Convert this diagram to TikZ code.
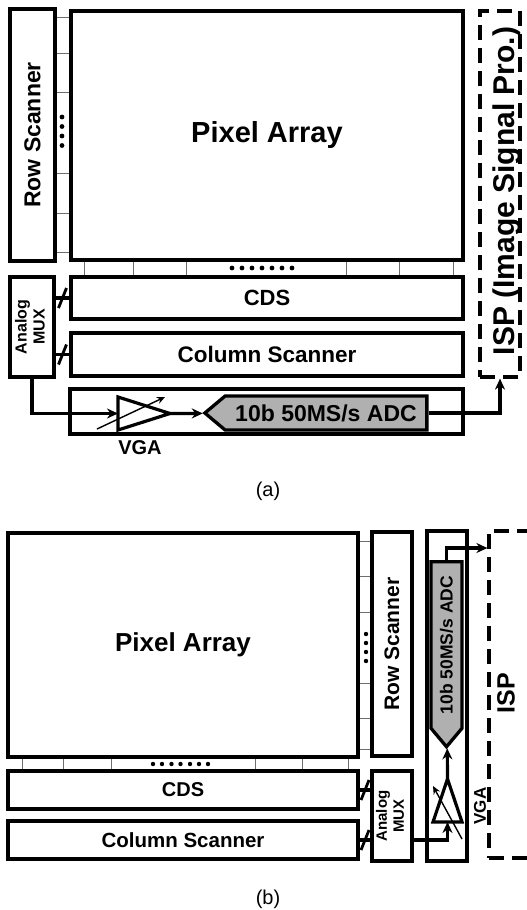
\documentclass[tikz,border=0pt]{standalone}
\usepackage{fontspec}
\setmainfont{Liberation Sans}
\usepackage{graphicx}
\usetikzlibrary{arrows.meta, positioning, shapes.symbols, calc}
\definecolor{adcgray}{RGB}{176,176,176}
\definecolor{tickgray}{RGB}{110,110,110}
\newcommand{\fsz}[2]{\fontsize{#1pt}{#2pt}\selectfont}

\begin{document}
\begin{tikzpicture}[
    x=1pt, y=-1pt,
    >={Stealth[length=11pt, width=10pt]},
    blockbox/.style={rectangle, draw, line width=3.3pt, fill=white, inner sep=0pt, font=\bfseries},
    ispbox/.style={rectangle, draw, line width=3.2pt, dash pattern=on 15pt off 8pt, inner sep=0pt},
    adcbox/.style={signal, signal to=west, signal pointer angle=80, draw, fill=adcgray, line width=3.3pt, inner sep=0pt, font=\bfseries},
    vgabox/.style={draw, fill=white, line width=3.2pt, line join=miter},
    gainarrow/.style={line width=1.4pt, -{Stealth[length=8pt, width=7pt]}},
    wire/.style={line width=3.2pt},
    tickline/.style={line width=0.9pt, tickgray},
    slashmark/.style={line width=2.8pt},
    textlabel/.style={font=\bfseries, inner sep=0pt},
]
    \useasboundingbox (0,0) rectangle (527,910);

    % (a) row readout on the bottom
    \node[blockbox, minimum width=45pt, minimum height=252pt] (rsA) at (32.5,135) {\rotatebox{90}{\fsz{23}{24}Row Scanner}};
    \node[blockbox, minimum width=392pt, minimum height=249pt] (paA) at (267,135.5) {\fsz{29}{30}Pixel Array};
    \node[blockbox, minimum width=392pt, minimum height=42pt] (cdsA) at (267,298) {\fsz{22}{24}CDS};
    \node[blockbox, minimum width=392pt, minimum height=43pt] (csA) at (267,354.5) {\fsz{22.5}{24}Column Scanner};
    \node[blockbox, minimum width=44pt, minimum height=100pt] (muxA) at (32,327) {\rotatebox{90}{\fsz{16}{18}\begin{tabular}{@{}c@{}}Analog\\MUX\end{tabular}}};
    \node[blockbox, minimum width=393pt, minimum height=45pt] (chA) at (266.5,411.5) {};
    \node[ispbox, minimum width=40pt, minimum height=366pt] (ispA) at (500,194) {};
    \node[textlabel, rotate=90] (ispAtext) at (507,191) {\fsz{30}{30}ISP (Image Signal Pro.)};

    \foreach \y in {17,53,92,173,213,252}
        \draw[tickline] (rsA.east |- 0,\y) -- (paA.west |- 0,\y);
    \foreach \y in {117,126.5,136,145.5}
        \fill (62,\y) circle (2.4pt);
    \foreach \x in {84,133,186,346,399,453}
        \draw[tickline] (paA.south -| \x,0) -- (cdsA.north -| \x,0);
    \foreach \x in {232,242,252,262,272,282,292}
        \fill (\x,268) circle (2.4pt);

    \draw[wire] (muxA.east |- cdsA.west) -- (cdsA.west);
    \draw[slashmark] ($(muxA.east |- cdsA.west)!0.5!(cdsA.west)$) ++(-4,10) -- ++(8,-20);
    \draw[wire] (muxA.east |- csA.west) -- (csA.west);
    \draw[slashmark] ($(muxA.east |- csA.west)!0.5!(csA.west)$) ++(-4,10) -- ++(8,-20);

    \coordinate (vgaAin) at (118,413.5);
    \coordinate (vgaAout) at (170,413.5);
    \draw[wire, ->] (muxA.south) |- (vgaAin);
    \draw[vgabox] (118,397) -- (118,430) -- (vgaAout) -- cycle;
    \draw[gainarrow] (97,429) -- (165,397);
    \node[textlabel] (vgaAtext) at (140,448) {\fsz{20}{20}VGA};
    \node[adcbox, minimum width=222pt, minimum height=34pt] (adcA) at (326,413) {\fsz{23}{24}10b 50MS/s ADC};
    \draw[wire, ->] (vgaAout) -- (adcA);
    \draw[wire, ->] (adcA.east) -| (ispA.south);

    \node (capA) at (268,491) {\fsz{20}{20}(a)};

    % (b) column readout on the right
    \node[blockbox, minimum width=350pt, minimum height=224pt] (paB) at (183,645) {\fsz{26}{28}Pixel Array};
    \node[blockbox, minimum width=40pt, minimum height=224pt] (rsB) at (392,644) {\rotatebox{90}{\fsz{21}{22}Row Scanner}};
    \node[blockbox, minimum width=350pt, minimum height=38pt] (cdsB) at (183,790) {\fsz{20}{22}CDS};
    \node[blockbox, minimum width=350pt, minimum height=38pt] (csB) at (183,840) {\fsz{20.5}{22}Column Scanner};
    \node[blockbox, minimum width=40pt, minimum height=90pt] (muxB) at (392,816) {\rotatebox{90}{\fsz{15}{17}\begin{tabular}{@{}c@{}}Analog\\MUX\end{tabular}}};
    \node[blockbox, minimum width=40pt, minimum height=330pt] (chB) at (447,696) {};
    \node[ispbox, minimum width=42pt, minimum height=327pt] (ispB) at (510,694.5) {};
    \node[textlabel, rotate=90] (ispBtext) at (506,693) {\fsz{25}{26}ISP};

    \foreach \y in {541,576,612,683,718,749}
        \draw[tickline] (paB.east |- 0,\y) -- (rsB.west |- 0,\y);
    \foreach \y in {634,643,652,661}
        \fill (366,\y) circle (2.2pt);
    \foreach \x in {22,63,111,255,302,348}
        \draw[tickline] (paB.south -| \x,0) -- (cdsB.north -| \x,0);
    \foreach \x in {153,162,171.5,180.5,190,199,208}
        \fill (\x,764) circle (2.2pt);

    \draw[wire] (cdsB.east) -- (cdsB.east -| muxB.west);
    \draw[slashmark] ($(cdsB.east)!0.5!(cdsB.east -| muxB.west)$) ++(-4,10) -- ++(8,-20);
    \draw[wire] (csB.east) -- (csB.east -| muxB.west);
    \draw[slashmark] ($(csB.east)!0.5!(csB.east -| muxB.west)$) ++(-4,10) -- ++(8,-20);

    \coordinate (vgaBin) at (447.5,822);
    \coordinate (vgaBout) at (447.5,779);
    \coordinate (muxBout) at (muxB.east |- 0,840);
    \draw[wire, ->] (muxBout) -| (vgaBin);
    \draw[vgabox] (433,822) -- (462,822) -- (vgaBout) -- cycle;
    \draw[gainarrow] (462,839) -- (433,786);
    \node[textlabel, rotate=90] (vgaBtext) at (480,806) {\fsz{17}{18}VGA};
    \node[adcbox, rotate=90, minimum width=185pt, minimum height=31pt] (adcB) at (446.5,645) {\fsz{17.5}{18}10b 50MS/s ADC};
    \draw[wire, ->] (vgaBout) -- (adcB);
    \draw[wire, ->] (adcB.east) |- (ispB.west |- 0,548);

    \node (capB) at (268,899) {\fsz{20}{20}(b)};
\end{tikzpicture}
\end{document}
